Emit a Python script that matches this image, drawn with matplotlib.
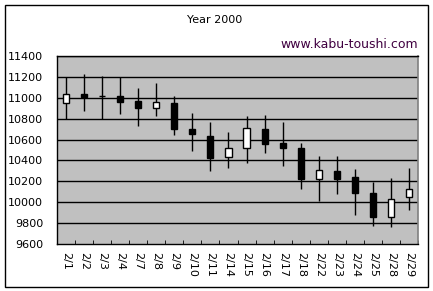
import matplotlib
matplotlib.use("Agg")
import matplotlib.pyplot as plt
from matplotlib.patches import Rectangle
import numpy as np

dates = ["2/1", "2/2", "2/3", "2/4", "2/7", "2/8", "2/9", "2/10", "2/11", "2/14",
         "2/15", "2/16", "2/17", "2/18", "2/22", "2/23", "2/24", "2/25", "2/28", "2/29"]
opens = [10950, 11035, 11020, 11015, 10970, 10905, 10950, 10700, 10635, 10435,
         10520, 10705, 10565, 10515, 10225, 10300, 10240, 10090, 9860, 10050]
highs = [11195, 11228, 11208, 11196, 11090, 11141, 11017, 10857, 10768, 10672,
         10825, 10835, 10768, 10567, 10443, 10443, 10318, 10197, 10232, 10328]
lows = [10795, 10873, 10795, 10848, 10733, 10828, 10644, 10493, 10302, 10331,
        10378, 10474, 10347, 10129, 10015, 10079, 9878, 9775, 9766, 9928]
closes = [11040, 11010, 11020, 10960, 10905, 10960, 10705, 10650, 10425, 10515,
          10715, 10560, 10520, 10225, 10305, 10225, 10090, 9860, 10035, 10125]
yticks = [9600, 9800, 10000, 10200, 10400, 10600, 10800, 11000, 11200, 11400]

W, H = 433, 291
fig = plt.figure(figsize=(W / 100, H / 100), dpi=100)
fig.patch.set_facecolor("white")
fig.patches.append(Rectangle((5 / W, 1 - 287 / H), 423 / W, 282 / H, transform=fig.transFigure,
                             fill=False, edgecolor="black", linewidth=1))

ax = fig.add_axes([57 / W, 1 - 244 / H, 361 / W, 188 / H])
ax.set_facecolor("#C0C0C0")
x = np.arange(len(dates))
ax.set_xlim(-0.5, len(dates) - 0.5)
ax.set_ylim(yticks[0], yticks[-1])

for yt in yticks[1:]:
    ax.axhline(yt, color="black", linewidth=1, zorder=1)

ax.vlines(x, lows, highs, color="black", linewidth=1, zorder=2)
bw = 0.34
for xi, o, c in zip(x, opens, closes):
    if o == c:
        ax.hlines(o, xi - bw / 2, xi + bw / 2, color="black", linewidth=1, zorder=3)
    else:
        ax.bar(xi, abs(c - o), bottom=min(o, c), width=bw,
               color="white" if c > o else "black", edgecolor="black",
               linewidth=1, zorder=3)

ax.set_yticks(yticks)
ax.set_yticklabels([str(v) for v in yticks], fontsize=8)
ax.tick_params(axis="y", length=0, pad=10)
ax.set_xticks(x)
ax.set_xticklabels(dates, rotation=-90, fontsize=8, va="top", ha="center")
ax.set_xticks(np.arange(len(dates) + 1) - 0.5, minor=True)
ax.tick_params(axis="x", which="major", length=0, pad=6)
ax.tick_params(axis="x", which="minor", direction="in", length=3, color="black")

for s in ["left", "bottom", "top"]:
    ax.spines[s].set_color("black")
    ax.spines[s].set_linewidth(1)
ax.spines["right"].set_color("#808080")
ax.spines["right"].set_linewidth(1.2)

fig.text(215 / W, 1 - 20 / H, "Year 2000", fontsize=8, ha="center", va="center")
fig.text(418 / W, 1 - 44 / H, "www.kabu-toushi.com", fontsize=9, ha="right", va="center",
         color="#400040")

fig.savefig("out.png", dpi=100)
